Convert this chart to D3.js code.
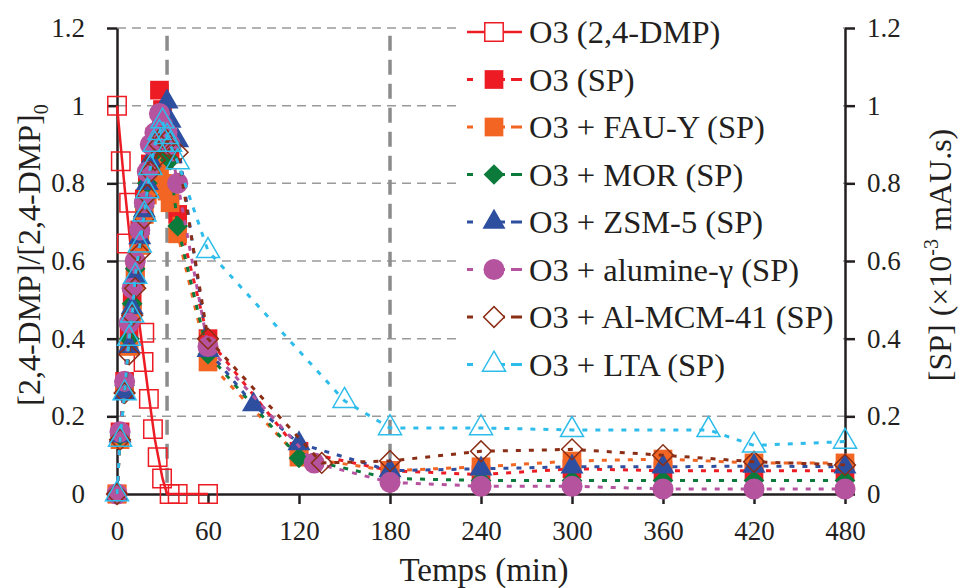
<!DOCTYPE html>
<html><head><meta charset="utf-8">
<script src="https://cdn.jsdelivr.net/npm/d3@7"></script>
<style>
html,body{margin:0;padding:0;background:#fff;}
svg{display:block;}
</style></head>
<body><svg id="chart" width="962" height="588"></svg>
<script>
// ---------- data ----------
const xTicks = [0, 60, 120, 180, 240, 300, 360, 420, 480];
const yTicks = [0, 0.2, 0.4, 0.6, 0.8, 1, 1.2];
const refLines = [33, 180];

const dmpTime = [0, 2.5, 8, 6.5, 18, 17.5, 21, 23.7, 26.8, 29.7, 34.7, 40, 60];
const dmpVal  = [1.0, 0.857, 0.75, 0.645, 0.415, 0.34, 0.245, 0.167, 0.095, 0.04, 0, 0, 0];
const dmpFitTime = [0, 5, 10, 15, 20, 25, 30, 33, 60];
const dmpFitVal  = [1.0, 0.79, 0.6, 0.43, 0.28, 0.14, 0.04, 0, 0];

const tEarly = [0, 2, 5, 8, 10, 12, 15, 18, 20, 22, 25, 28, 30, 33, 35, 40];
const spTime  = tEarly.concat([60, 120, 180, 240, 300, 360, 420, 480]);
const zsmTime = tEarly.concat([60, 90, 120, 180, 240, 300, 360, 420, 480]);
const aluTime = tEarly.concat([60, 130, 180, 240, 300, 360, 420, 480]);
const mcmTime = tEarly.concat([60, 135, 180, 240, 300, 360, 420, 480]);
const ltaTime = tEarly.concat([60, 150, 180, 240, 300, 390, 420, 480]);

const o3SP  = [0, 0.16, 0.29, 0.42, 0.5, 0.57, 0.68, 0.76, 0.80, 0.85, 0.92, 1.04, 0.99, 0.93, 0.88, 0.72,
               0.40, 0.11, 0.06, 0.05, 0.065, 0.06, 0.06, 0.06];
const fauSP = [0, 0.14, 0.27, 0.38, 0.47, 0.55, 0.64, 0.72, 0.77, 0.81, 0.85, 0.84, 0.80, 0.78, 0.75, 0.67,
               0.34, 0.095, 0.06, 0.07, 0.085, 0.09, 0.08, 0.08];
const morSP = [0, 0.15, 0.28, 0.40, 0.49, 0.58, 0.67, 0.74, 0.80, 0.84, 0.88, 0.90, 0.89, 0.88, 0.86, 0.69,
               0.36, 0.093, 0.04, 0.035, 0.035, 0.035, 0.035, 0.035];
const zsmSP = [0, 0.15, 0.26, 0.38, 0.48, 0.56, 0.66, 0.73, 0.80, 0.86, 0.91, 0.94, 0.97, 1.01, 0.96, 0.91,
               0.37, 0.23, 0.13, 0.06, 0.065, 0.07, 0.07, 0.072, 0.07];
const aluSP = [0, 0.16, 0.29, 0.44, 0.53, 0.60, 0.68, 0.75, 0.83, 0.90, 0.93, 0.98, 0.95, 0.93, 0.90, 0.80,
               0.38, 0.08, 0.03, 0.02, 0.02, 0.013, 0.013, 0.013];
const mcmSP = [0, 0.14, 0.26, 0.36, 0.46, 0.53, 0.62, 0.71, 0.77, 0.83, 0.86, 0.90, 0.92, 0.91, 0.89, 0.88,
               0.40, 0.08, 0.085, 0.11, 0.115, 0.10, 0.083, 0.075];
const ltaSP = [0, 0.14, 0.26, 0.40, 0.46, 0.56, 0.64, 0.72, 0.78, 0.84, 0.90, 0.93, 0.96, 0.92, 0.90, 0.855,
               0.626, 0.24, 0.17, 0.17, 0.165, 0.165, 0.125, 0.135];

const seriesNames = ["O3 (2,4-DMP)", "O3 (SP)", "O3 + FAU-Y (SP)", "O3 + MOR (SP)", "O3 + ZSM-5 (SP)",
                     "O3 + alumine-γ (SP)", "O3 + Al-MCM-41 (SP)", "O3 + LTA (SP)"];
const seriesColors = ["#ed1c24", "#ed1c24", "#f26522", "#0b7a3a", "#2e4fa0", "#b5539f", "#8b2e16", "#2ebdeb"];

// ---------- font detection ----------
function pickFont(cands) {
  const c = document.createElement("canvas").getContext("2d");
  const s = "O3 (2,4-DMP) Temps mAU.s 0123456789 Wiggle";
  const base = {};
  ["monospace", "sans-serif"].forEach(b => { c.font = "40px " + b; base[b] = c.measureText(s).width; });
  for (const f of cands) {
    let ok = true;
    for (const b of ["monospace", "sans-serif"]) {
      c.font = `40px "${f}", ${b}`;
      if (Math.abs(c.measureText(s).width - base[b]) < 0.5) { ok = false; break; }
    }
    if (ok) return f;
  }
  return null;
}
const serifName = pickFont(["Liberation Serif", "Tinos", "Times New Roman", "Times", "Nimbus Roman",
                            "Nimbus Roman No9 L", "DejaVu Serif", "Noto Serif", "FreeSerif"]);
const HAS_SERIF = serifName !== null;
const FONT = HAS_SERIF ? `"${serifName}", serif` : `"Liberation Sans", Arial, sans-serif`;
const FS = HAS_SERIF ? {tick: 27, legend: 32.5, title: 32, xtitle: 33, sub: 20}
                     : {tick: 25, legend: 30, title: 30, xtitle: 30, sub: 19};

// ---------- setup ----------
const svg = d3.select("#chart").attr("font-family", FONT);
const x = d3.scaleLinear().domain([0, 480]).range([117, 845]);
const y = d3.scaleLinear().domain([0, 1.2]).range([494, 28]);

const zip = (ts, vs) => ts.map((t, i) => ({t, v: vs[i]}));

const spSeries = [
  {name: seriesNames[1], color: seriesColors[1], data: zip(spTime, o3SP), shape: "square", fill: true},
  {name: seriesNames[2], color: seriesColors[2], data: zip(spTime, fauSP), shape: "square", fill: true},
  {name: seriesNames[3], color: seriesColors[3], data: zip(spTime, morSP), shape: "diamond", fill: true},
  {name: seriesNames[4], color: seriesColors[4], data: zip(zsmTime, zsmSP), shape: "triangle", fill: true},
  {name: seriesNames[5], color: seriesColors[5], data: zip(aluTime, aluSP), shape: "circle", fill: true},
  {name: seriesNames[6], color: seriesColors[6], data: zip(mcmTime, mcmSP), shape: "diamond", fill: false},
  {name: seriesNames[7], color: seriesColors[7], data: zip(ltaTime, ltaSP), shape: "triangle", fill: false}
];

const symFor = shape => {
  if (shape === "square") return d3.symbol().type(d3.symbolSquare).size(350)();
  if (shape === "circle") return d3.symbol().type(d3.symbolCircle).size(350)();
  if (shape === "triangle") return d3.symbol().type(d3.symbolTriangle).size(230)();
  if (shape === "diamond") return d3.symbol().type(d3.symbolSquare).size(215)();
  if (shape === "osquare") return d3.symbol().type(d3.symbolSquare).size(340)();
};
const rot = shape => shape === "diamond" ? " rotate(45)" : "";

// ---------- grid ----------
svg.append("g").selectAll("line").data(yTicks.filter(d => d > 0)).join("line")
  .attr("x1", x(0)).attr("x2", x(480)).attr("y1", d => y(d)).attr("y2", d => y(d))
  .attr("stroke", "#9a9a9a").attr("stroke-width", 1.5).attr("stroke-dasharray", "9,6");

// ---------- vertical reference lines ----------
svg.append("g").selectAll("line").data(refLines).join("line")
  .attr("x1", d => x(d)).attr("x2", d => x(d)).attr("y1", y(1.18)).attr("y2", y(0))
  .attr("stroke", "#8c8c8c").attr("stroke-width", 3.5).attr("stroke-dasharray", "15,9");

// ---------- axes ----------
const fmt = d => d === 0 ? "0" : d === 1 ? "1" : d3.format(".1f")(d);
const left = svg.append("g").attr("transform", `translate(${x(0)},0)`)
  .call(d3.axisLeft(y).tickValues(yTicks).tickFormat(fmt).tickSize(10).tickSizeOuter(0).tickPadding(22));
const right = svg.append("g").attr("transform", `translate(${x(480)},0)`)
  .call(d3.axisRight(y).tickValues(yTicks).tickFormat(fmt).tickSize(10).tickSizeOuter(0).tickPadding(12));
const bottom = svg.append("g").attr("transform", `translate(0,${y(0)})`)
  .call(d3.axisBottom(x).tickValues(xTicks).tickSize(10).tickSizeOuter(0).tickPadding(17));
[left, right, bottom].forEach(g => {
  g.attr("font-family", FONT).attr("font-size", FS.tick);
  g.select(".domain").attr("stroke", "#231f20").attr("stroke-width", 2.5);
  g.selectAll(".tick line").attr("stroke", "#231f20").attr("stroke-width", 2.5);
  g.selectAll("text").attr("fill", "#231f20");
});

// ---------- 2,4-DMP series ----------
const lineGen = d3.line().x(d => x(d.t)).y(d => y(d.v));
svg.append("path").datum(zip(dmpFitTime, dmpFitVal))
  .attr("d", lineGen).attr("fill", "none").attr("stroke", seriesColors[0]).attr("stroke-width", 2.5);
svg.append("g").selectAll("path").data(zip(dmpTime, dmpVal)).join("path")
  .attr("d", symFor("osquare")).attr("transform", d => `translate(${x(d.t)},${y(d.v)})`)
  .attr("fill", "none").attr("stroke", seriesColors[0]).attr("stroke-width", 1.5);

// ---------- SP series ----------
spSeries.forEach(s => {
  svg.append("path").datum(s.data).attr("d", lineGen).attr("fill", "none")
    .attr("stroke", s.color).attr("stroke-width", 3).attr("stroke-dasharray", "5,8");
  svg.append("g").selectAll("path").data(s.data).join("path")
    .attr("d", symFor(s.shape))
    .attr("transform", d => `translate(${x(d.t)},${y(d.v)})${rot(s.shape)}`)
    .attr("fill", s.fill ? s.color : "none")
    .attr("stroke", s.fill ? "none" : s.color).attr("stroke-width", 1.5);
});

// ---------- legend ----------
const lg = svg.append("g");
lg.append("rect").attr("x", 460).attr("y", 4).attr("width", 383).attr("height", 388).attr("fill", "#fff");
const legendItems = [{name: seriesNames[0], color: seriesColors[0], shape: "osquare", fill: false, solid: true}]
  .concat(spSeries.map(s => ({...s, solid: false})));
legendItems.forEach((s, i) => {
  const cy = 32 + i * 47.5;
  const g = lg.append("g");
  if (s.solid) {
    g.append("line").attr("x1", 467).attr("x2", 522).attr("y1", cy).attr("y2", cy)
      .attr("stroke", s.color).attr("stroke-width", 2.5);
  } else {
    g.append("line").attr("x1", 467).attr("x2", 522).attr("y1", cy).attr("y2", cy)
      .attr("stroke", s.color).attr("stroke-width", 3).attr("stroke-dasharray", "6,18,0,8,6");
  }
  g.append("path").attr("d", symFor(s.shape))
    .attr("transform", `translate(494,${cy})${rot(s.shape)}`)
    .attr("fill", s.fill ? s.color : "#fff")
    .attr("stroke", s.fill ? "none" : s.color).attr("stroke-width", 1.5);
  g.append("text").attr("x", 529).attr("y", cy).attr("dy", "0.35em")
    .attr("font-size", FS.legend).attr("fill", "#231f20").text(s.name);
});

// ---------- axis titles ----------
svg.append("text").attr("x", 0).attr("y", 0).attr("font-size", FS.title).attr("text-anchor", "middle")
  .attr("fill", "#231f20").attr("transform", "translate(40,255) rotate(-90)")
  .call(t => { t.append("tspan").text("[2,4-DMP]/[2,4-DMP]");
               t.append("tspan").attr("font-size", FS.sub).attr("dy", 8).text("0"); });
svg.append("text").attr("x", 0).attr("y", 0).attr("font-size", FS.title).attr("text-anchor", "middle")
  .attr("fill", "#231f20").attr("transform", "translate(951,255) rotate(-90)")
  .call(t => { t.append("tspan").text("[SP] (×10");
               t.append("tspan").attr("font-size", FS.sub).attr("dy", -13).text("-3");
               t.append("tspan").attr("dy", 13).text(" mAU.s)"); });
svg.append("text").attr("x", x(240) + 3).attr("y", 581).attr("font-size", FS.xtitle).attr("fill", "#231f20")
  .attr("text-anchor", "middle").text("Temps (min)");
</script></body></html>
